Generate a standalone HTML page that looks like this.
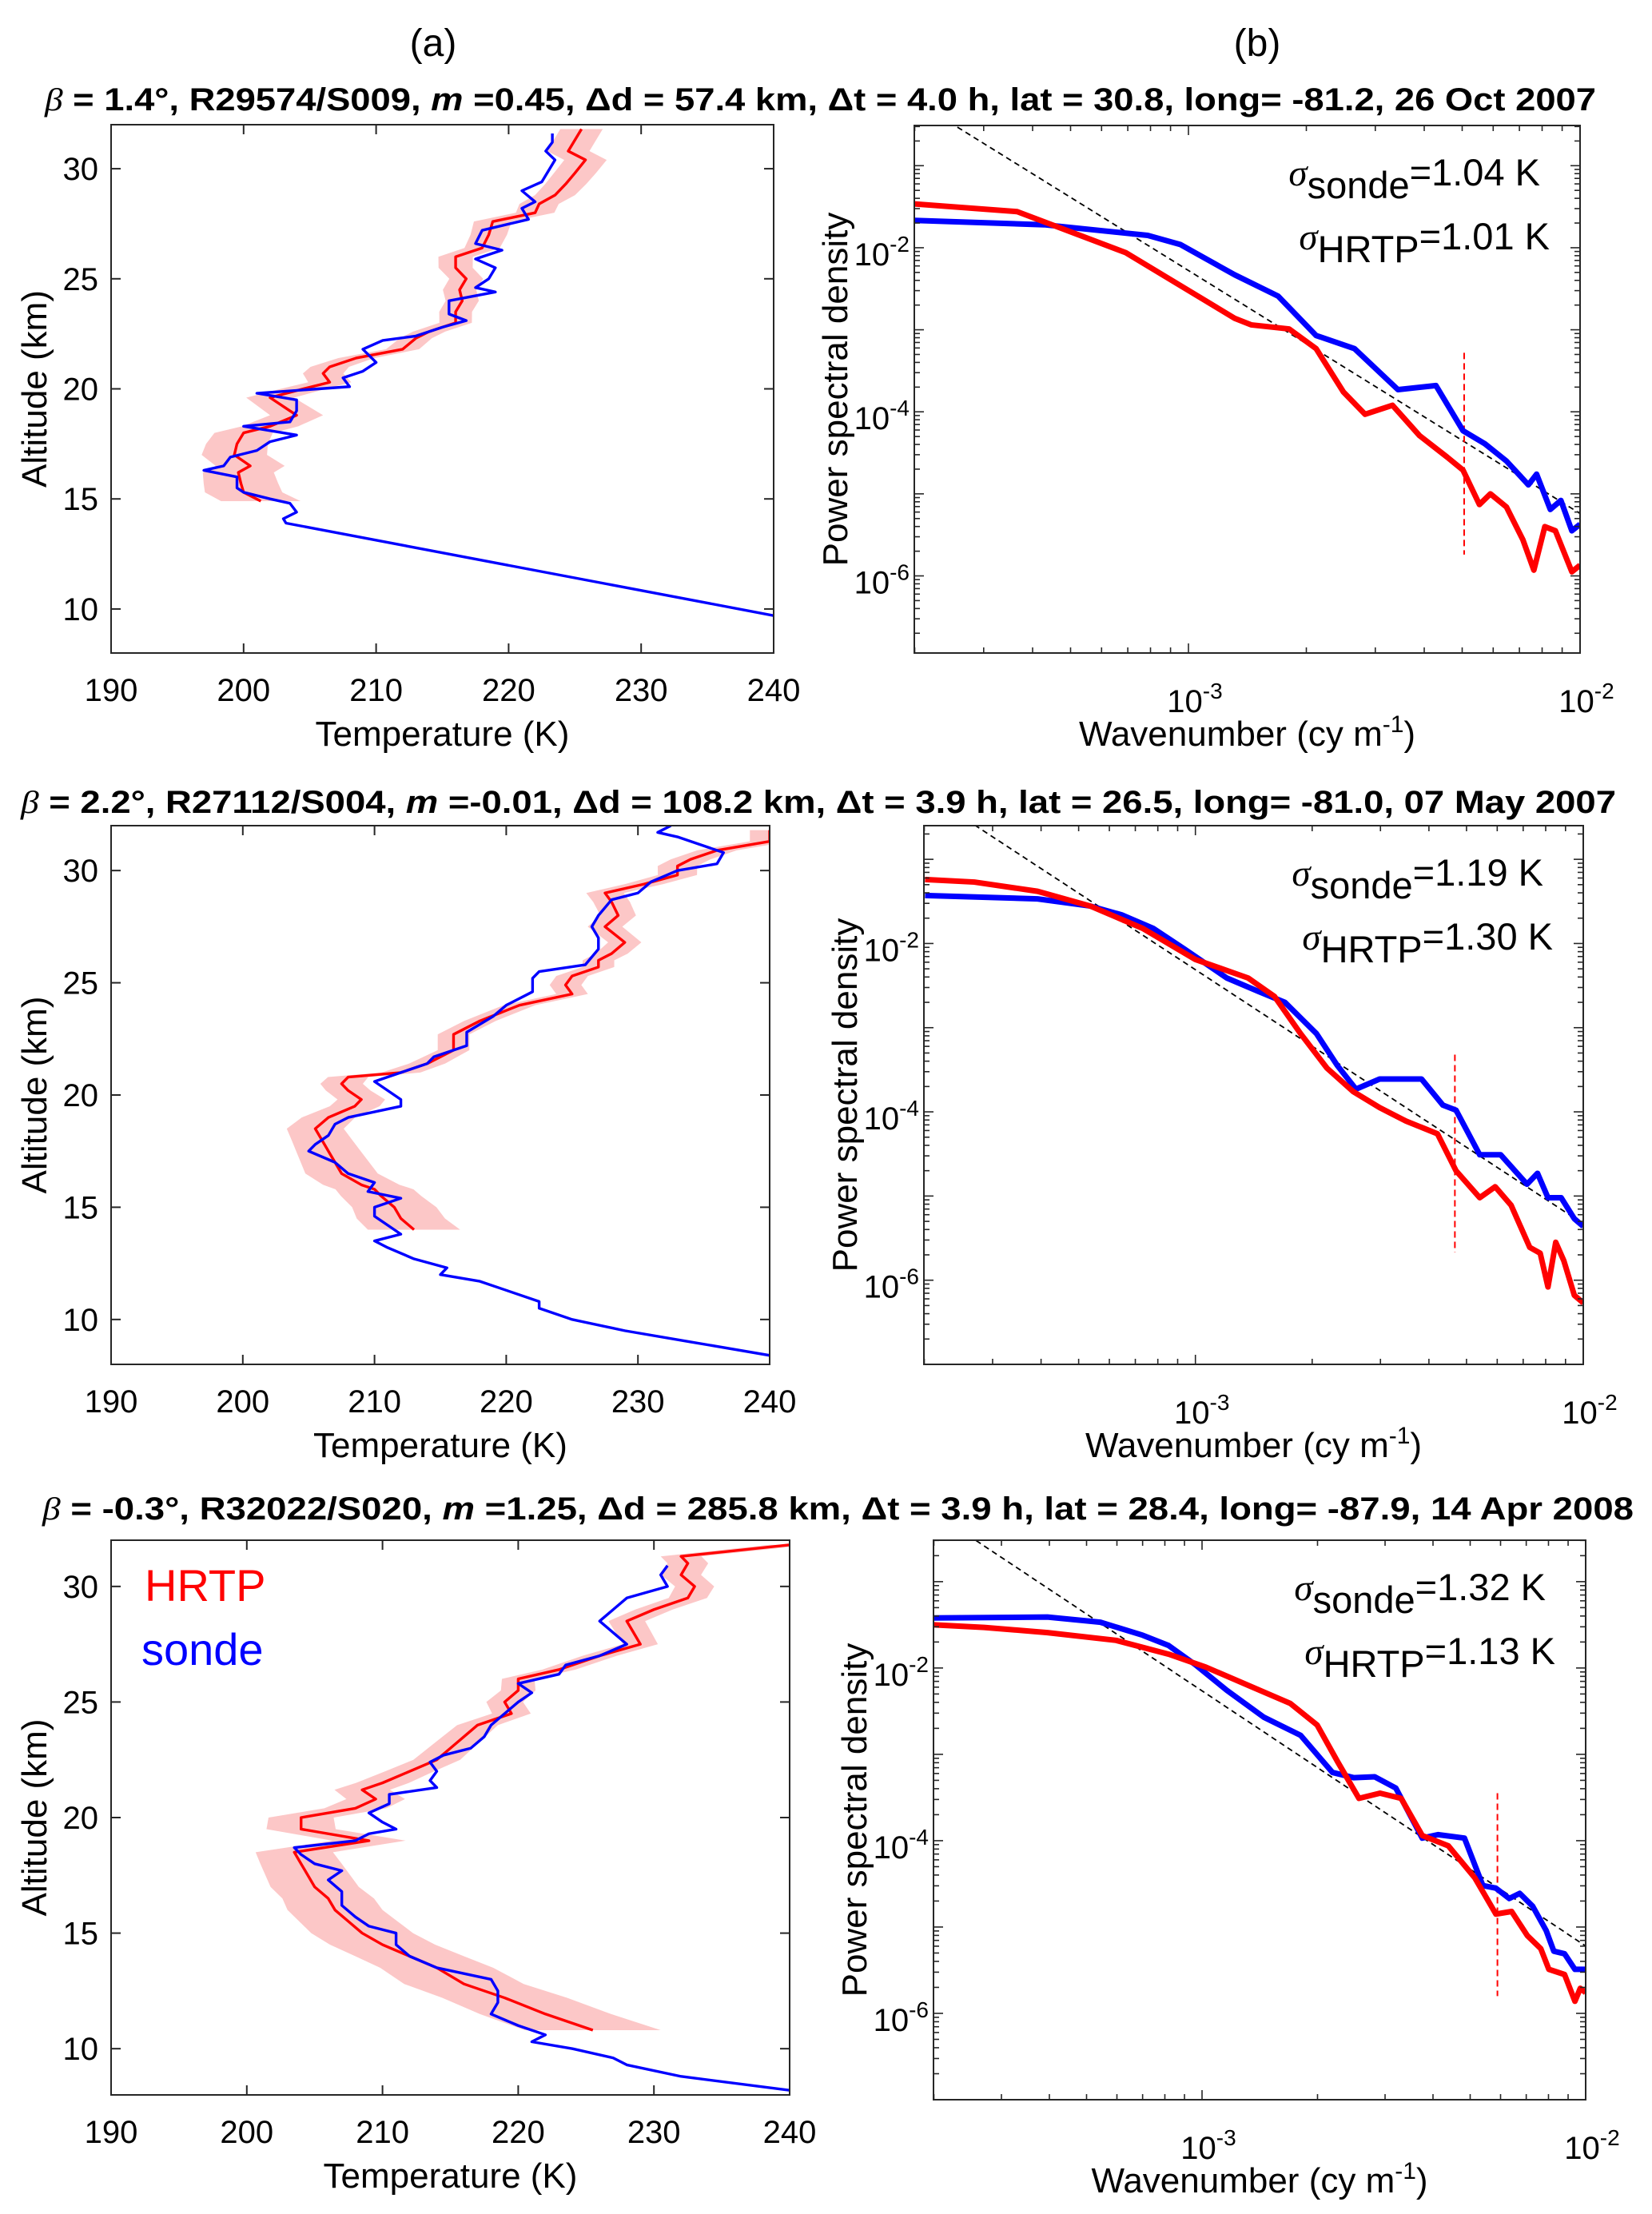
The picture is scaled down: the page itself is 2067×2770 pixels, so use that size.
<!DOCTYPE html>
<html><head><meta charset="utf-8"><style>
html,body{margin:0;padding:0;background:#fff}
svg{display:block}
text{font-family:"Liberation Sans",Arial,sans-serif;fill:#000}
</style></head><body>
<svg id="fig" xmlns="http://www.w3.org/2000/svg" width="2067" height="2770" viewBox="0 0 2067 2770">
<text x="542" y="70" font-size="48" text-anchor="middle">(a)</text>
<text x="1573" y="70" font-size="48" text-anchor="middle">(b)</text>
</svg>
<script>
// ===== Temperature profile data: [altitude km, temperature K] =====
const sonde1=[[9.7,240],[13.9,203.2],[14.1,203],[14.4,204],[14.8,203.5],[15,202],[15.3,200],[15.5,199.5],[16,199.5],[16.3,197],[16.5,198.5],[16.9,199],[17.2,201],[17.6,202],[17.9,204],[18.3,200],[18.5,203.5],[19,204],[19.5,204],[19.8,201],[20.1,208],[20.5,207.5],[20.8,209],[21.2,210],[21.8,209],[22.2,210.5],[22.4,213],[22.8,215],[23.1,216.8],[23.4,215.5],[24,215.5],[24.4,219],[24.6,217.5],[25,218.5],[25.5,219],[25.9,217.5],[26.3,219.5],[26.6,217.5],[27.2,218],[27.7,221.5],[28.2,221],[28.5,222],[29,221],[29.4,222.5],[29.9,223],[30.4,223.5],[30.8,222.8],[31.2,223.3],[31.6,223.3]];
const hrtp1=[[14.9,201.3],[15.3,200],[15.7,199.8],[16.2,199.6],[16.5,200.5],[17,199.3],[17.5,199.5],[18,200],[18.3,202],[18.8,204],[19.2,203],[19.6,202],[20,204.5],[20.3,206.5],[20.7,206],[21,206.5],[21.4,208.5],[21.8,212],[22.3,213],[22.6,214],[23,216],[23.5,216],[24,216.5],[24.5,216.3],[25,216.8],[25.5,216],[26,216],[26.4,218],[27,218.5],[27.6,218.8],[28,222],[28.4,222.3],[28.8,223.5],[29.3,224.3],[29.8,225],[30.4,225.8],[30.8,224.5],[31.3,225],[31.8,225.5]];
const band1=[[15,3],[18,2.2],[22,1.2],[26,1.3],[30,1.6]];
const sonde2=[[8.4,240],[9,234],[9.5,229],[10,225],[10.5,222.5],[10.8,222.5],[11.3,220],[11.7,218],[12,215],[12.3,215.5],[12.7,213],[13.2,211],[13.5,210],[13.8,212],[14.2,211],[14.6,210],[15,210],[15.4,212],[15.7,209.5],[16.1,210],[16.5,208],[17,207],[17.5,205],[17.8,205.5],[18.2,206.5],[18.7,207],[19,208],[19.5,212],[19.8,212],[20.2,211],[20.6,210],[21,212],[21.4,214],[21.7,214.5],[22.2,217],[22.8,217],[23.5,219],[24,220],[24.6,222],[25.2,222],[25.5,222.5],[25.8,226],[26.5,227],[27,227],[27.5,226.5],[28,227],[28.7,228],[29,230],[29.5,231],[30,233],[30.3,236],[30.8,236.5],[31.1,235],[31.5,233],[31.7,231.5],[32,232.5]];
const hrtp2=[[14,213],[14.5,212],[15,211.5],[15.5,210.5],[15.8,210],[16,209],[16.5,207.5],[17,207],[17.5,206.5],[18,206],[18.5,205.5],[19,206.5],[19.5,208.5],[19.8,209],[20.2,208],[20.5,207.5],[20.8,208],[21,212],[21.4,214],[22,216],[22.7,216],[23.3,218],[24,221],[24.5,225],[24.9,224.5],[25.3,225],[25.7,227],[26,227],[26.3,228],[26.8,229],[27.5,227.5],[28,228.5],[28.6,228],[29,227.5],[29.4,230.5],[29.8,233],[30.2,233],[30.5,234],[30.9,236],[31.3,240],[31.8,240]];
const band2=[[14,3.5],[18,2.3],[22,1.2],[26,1.2],[30,1.5]];
const sonde3=[[8.2,240],[8.8,232],[9.3,228],[9.6,227],[10,224],[10.3,221],[10.6,222],[11,220],[11.5,218],[12,218.5],[12.5,218.5],[13,218],[13.5,214],[14,212],[14.5,211],[14.8,211],[15,211],[15.3,209],[15.7,208],[16.2,207],[16.8,207],[17.3,206],[17.7,207],[18,205],[18.4,204],[18.7,203.5],[19,208],[19.3,209],[19.5,211],[19.8,210],[20.2,209],[20.6,210.5],[21,210.5],[21.3,214],[21.6,213.5],[22,214],[22.4,213.5],[22.7,214.5],[23,216.5],[23.5,217.5],[24,218],[24.5,219],[25,220],[25.4,221],[25.8,220],[26.2,223],[26.6,223.5],[27,226],[27.5,228],[28,227],[28.5,226],[29,227],[29.5,228],[30,231],[30.5,230.5],[30.9,231]];
const hrtp3=[[10.8,225.5],[11.5,222],[12.2,219],[12.8,216],[13.5,214],[14,212],[14.5,210],[15,208.5],[15.5,207.5],[16,206.5],[16.5,206],[17,205],[17.5,204.5],[18,204],[18.5,203.5],[19,209],[19.5,204],[20,204],[20.4,208],[20.8,209.5],[21.2,208.5],[21.5,210],[22,212],[22.5,214],[23,215],[23.5,216],[24,217],[24.5,219.5],[25,219],[25.5,220],[26,220],[26.4,223],[27,226],[27.5,229],[28,228.5],[28.5,228],[29,230],[29.5,232.5],[30,233],[30.5,232],[31,232.5],[31.3,232],[31.8,240]];
const band3=[[11,5],[14,4],[18,3],[22,1.8],[26,1.2],[31,1.5]];
const tempTicks=[190,200,210,220,230,240];
const altTicks=[10,15,20,25,30];

// ===== Spectra: [log10 wavenumber, log10 PSD] =====
const psdSonde1=[[-3.7,-1.667],[-3.368,-1.72],[-3.104,-1.85],[-3.021,-1.96],[-2.882,-2.33],[-2.771,-2.59],[-2.674,-3.07],[-2.576,-3.23],[-2.465,-3.73],[-2.368,-3.68],[-2.299,-4.23],[-2.243,-4.39],[-2.188,-4.6],[-2.132,-4.89],[-2.111,-4.76],[-2.076,-5.19],[-2.049,-5.08],[-2.021,-5.45],[-2,-5.37]];
const psdHrtp1=[[-3.7,-1.466],[-3.4375,-1.56],[-3.16,-2.06],[-2.882,-2.86],[-2.84,-2.94],[-2.743,-2.99],[-2.674,-3.23],[-2.604,-3.76],[-2.549,-4.03],[-2.479,-3.92],[-2.41,-4.29],[-2.34,-4.55],[-2.299,-4.71],[-2.257,-5.13],[-2.229,-5.0],[-2.188,-5.16],[-2.146,-5.56],[-2.118,-5.93],[-2.09,-5.4],[-2.063,-5.45],[-2.021,-5.95],[-2,-5.87]];
const psdSonde2=[[-3.697,-1.43],[-3.407,-1.47],[-3.271,-1.555],[-3.19,-1.66],[-3.109,-1.82],[-3.027,-2.07],[-2.919,-2.41],[-2.837,-2.57],[-2.769,-2.7],[-2.688,-3.07],[-2.634,-3.45],[-2.586,-3.73],[-2.525,-3.61],[-2.417,-3.61],[-2.362,-3.92],[-2.328,-3.98],[-2.267,-4.51],[-2.213,-4.51],[-2.145,-4.86],[-2.118,-4.73],[-2.091,-5.02],[-2.057,-5.02],[-2.023,-5.27],[-2,-5.36]];
const psdHrtp2=[[-3.697,-1.24],[-3.57,-1.27],[-3.407,-1.38],[-3.271,-1.555],[-3.136,-1.82],[-3,-2.19],[-2.864,-2.41],[-2.796,-2.63],[-2.729,-3.07],[-2.661,-3.48],[-2.593,-3.76],[-2.525,-3.95],[-2.457,-4.11],[-2.376,-4.26],[-2.328,-4.7],[-2.267,-5.02],[-2.227,-4.89],[-2.186,-5.11],[-2.138,-5.61],[-2.111,-5.68],[-2.091,-6.08],[-2.071,-5.55],[-2.05,-5.77],[-2.023,-6.18],[-2,-6.27]];
const psdSonde3=[[-3.699,-1.42],[-3.403,-1.41],[-3.265,-1.47],[-3.155,-1.62],[-3.087,-1.74],[-3.018,-1.96],[-2.935,-2.26],[-2.839,-2.57],[-2.743,-2.78],[-2.66,-3.21],[-2.605,-3.27],[-2.55,-3.26],[-2.495,-3.39],[-2.426,-3.97],[-2.385,-3.93],[-2.316,-3.97],[-2.268,-4.52],[-2.234,-4.55],[-2.199,-4.67],[-2.172,-4.61],[-2.138,-4.76],[-2.103,-5.04],[-2.083,-5.28],[-2.055,-5.31],[-2.028,-5.49],[-2,-5.49]];
const psdHrtp3=[[-3.699,-1.5],[-3.568,-1.53],[-3.403,-1.59],[-3.224,-1.68],[-3.087,-1.84],[-2.99,-1.99],[-2.88,-2.2],[-2.77,-2.41],[-2.7,-2.66],[-2.646,-3.09],[-2.591,-3.51],[-2.536,-3.45],[-2.481,-3.51],[-2.426,-3.94],[-2.358,-4.06],[-2.289,-4.43],[-2.234,-4.85],[-2.193,-4.82],[-2.152,-5.1],[-2.117,-5.25],[-2.096,-5.49],[-2.055,-5.55],[-2.028,-5.86],[-2.014,-5.71],[-2,-5.76]];
const refLine1=[[-3.59,-0.53],[-2,-5.24]], cut1=[-2.296,-3.28,-5.74];
const refLine2=[[-3.59,-0.53],[-2,-5.33]], cut2=[-2.331,-3.32,-5.67];
const refLine3=[[-3.589,-0.524],[-2,-5.22]], cut3=[-2.23,-3.45,-5.8];
const sigmas=[["1.04","1.01"],["1.19","1.30"],["1.32","1.13"]];
const titles=[
 ["1.4","R29574/S009","0.45","57.4","4.0","30.8","-81.2","26 Oct 2007"],
 ["2.2","R27112/S004","-0.01","108.2","3.9","26.5","-81.0","07 May 2007"],
 ["-0.3","R32022/S020","1.25","285.8","3.9","28.4","-87.9","14 Apr 2008"]];

const NS="http://www.w3.org/2000/svg";
const svg=document.getElementById('fig');
function mk(tag,attrs,parent){const e=document.createElementNS(NS,tag);for(const k in attrs)e.setAttribute(k,attrs[k]);(parent||svg).appendChild(e);return e;}

function interpBand(b,alt){if(alt<=b[0][0])return b[0][1];for(let i=1;i<b.length;i++){if(alt<=b[i][0]){const t=(alt-b[i-1][0])/(b[i][0]-b[i-1][0]);return b[i-1][1]+t*(b[i][1]-b[i-1][1]);}}return b[b.length-1][1];}

function tempPanel(p,sonde,hrtp,band,idx,legend){
  const g=mk('g',{});
  
  
  const X=t=>p.x0+(t-190)/50*(p.x1-p.x0);
  const Y=a=>p.y1-(a-8)/24*(p.y1-p.y0);
  const cp=mk('clipPath',{id:'cpT'+idx},g);mk('rect',{x:p.x0,y:p.y0,width:p.x1-p.x0,height:p.y1-p.y0},cp);
  const dg=mk('g',{'clip-path':'url(#cpT'+idx+')'},g);
  let up=hrtp.map(d=>X(d[1]+interpBand(band,d[0]))+','+Y(d[0]));
  let dn=hrtp.slice().reverse().map(d=>X(d[1]-interpBand(band,d[0]))+','+Y(d[0]));
  const bp=mk('polygon',{points:up.concat(dn).join(' '),fill:'#fcc7c7',stroke:'none'},dg);
  
  
  const hl=mk('polyline',{points:hrtp.map(d=>X(d[1])+','+Y(d[0])).join(' '),fill:'none',stroke:'#ff0000','stroke-width':3.4,'stroke-linejoin':'round'},dg);
  
  
  const sl=mk('polyline',{points:sonde.map(d=>X(d[1])+','+Y(d[0])).join(' '),fill:'none',stroke:'#0000ff','stroke-width':3.4,'stroke-linejoin':'round'},dg);
  
  
  const fr=mk('rect',{x:p.x0,y:p.y0,width:p.x1-p.x0,height:p.y1-p.y0,fill:'none',stroke:'#262626','stroke-width':2},g);
  
  
  tempTicks.forEach(t=>{const x=X(t);
    mk('line',{x1:x,x2:x,y1:p.y1,y2:p.y1-12,stroke:'#262626','stroke-width':2},g);
    mk('line',{x1:x,x2:x,y1:p.y0,y2:p.y0+12,stroke:'#262626','stroke-width':2},g);
    const tl=mk('text',{x:x,y:p.y1+60,'font-size':40,'text-anchor':'middle'},g);tl.textContent=t;
    
    });
  altTicks.forEach(a=>{const y=Y(a);
    mk('line',{x1:p.x0,x2:p.x0+12,y1:y,y2:y,stroke:'#262626','stroke-width':2},g);
    mk('line',{x1:p.x1,x2:p.x1-12,y1:y,y2:y,stroke:'#262626','stroke-width':2},g);
    const tl=mk('text',{x:p.x0-16,y:y+14,'font-size':40,'text-anchor':'end'},g);tl.textContent=a;
    
    });
  const xl=mk('text',{x:(p.x0+p.x1)/2,y:p.y1+116,'font-size':44,'text-anchor':'middle'},g);xl.textContent='Temperature (K)';
  
  
  const yc=(p.y0+p.y1)/2;
  const yl=mk('text',{x:0,y:0,'font-size':44,'text-anchor':'middle',transform:'translate(58,'+yc+') rotate(-90)'},g);yl.textContent='Altitude (km)';
  
  
  if(legend){
    const l1=mk('text',{x:181,y:p.y0+76,'font-size':56},g);l1.textContent='HRTP';l1.style.fill='#ff0000';
    
    
    const l2=mk('text',{x:177,y:p.y0+156,'font-size':56},g);l2.textContent='sonde';l2.style.fill='#0000ff';
    
    
  }
}

function psdPanel(p,sonde,hrtp,ref,cut,sig,idx){
  const g=mk('g',{});
  
  
  const kx0=-3.7,kx1=-2;
  const X=lk=>p.x0+(lk-kx0)/(kx1-kx0)*(p.x1-p.x0);
  const Y=lp=>p.y1-(lp-p.ly0)/(p.ly1-p.ly0)*(p.y1-p.y0);
  const cp=mk('clipPath',{id:'cpP'+idx},g);mk('rect',{x:p.x0,y:p.y0,width:p.x1-p.x0,height:p.y1-p.y0},cp);
  const dg=mk('g',{'clip-path':'url(#cpP'+idx+')'},g);
  const rl=mk('line',{x1:X(ref[0][0]),y1:Y(ref[0][1]),x2:X(ref[1][0]),y2:Y(ref[1][1]),stroke:'#000','stroke-width':1.8,'stroke-dasharray':'7,5'},dg);
  
  
  const cl=mk('line',{x1:X(cut[0]),y1:Y(cut[1]),x2:X(cut[0]),y2:Y(cut[2]),stroke:'#ff0000','stroke-width':2,'stroke-dasharray':'8,5'},dg);
  
  
  const sl=mk('polyline',{points:sonde.map(d=>X(d[0])+','+Y(d[1])).join(' '),fill:'none',stroke:'#0000ff','stroke-width':7,'stroke-linejoin':'round'},dg);
  
  
  const hl=mk('polyline',{points:hrtp.map(d=>X(d[0])+','+Y(d[1])).join(' '),fill:'none',stroke:'#ff0000','stroke-width':7,'stroke-linejoin':'round'},dg);
  
  
  const fr=mk('rect',{x:p.x0,y:p.y0,width:p.x1-p.x0,height:p.y1-p.y0,fill:'none',stroke:'#262626','stroke-width':2},g);
  
  
  for(let dec=-4;dec<=-2;dec++){for(let m=1;m<=9;m++){const lk=dec+Math.log10(m);if(lk<kx0-1e-6||lk>kx1+1e-6)continue;const x=X(lk);const L=m==1?12:7;
    mk('line',{x1:x,x2:x,y1:p.y1,y2:p.y1-L,stroke:'#262626','stroke-width':1.6},g);
    mk('line',{x1:x,x2:x,y1:p.y0,y2:p.y0+L,stroke:'#262626','stroke-width':1.6},g);}}
  [-3,-2].forEach(d=>{const t=mk('text',{x:X(d)+8,y:p.y1+74,'font-size':40,'text-anchor':'middle'},g);
    
    
    const a=document.createElementNS(NS,'tspan');a.textContent='10';t.appendChild(a);
    const b=document.createElementNS(NS,'tspan');b.setAttribute('dy','-17');b.setAttribute('font-size','28');b.textContent=String(d);t.appendChild(b);});
  for(let dec=-8;dec<=0;dec++){for(let m=1;m<=9;m++){const lp=dec+Math.log10(m);if(lp<p.ly0-1e-6||lp>p.ly1+1e-6)continue;const y=Y(lp);const L=m==1?12:7;
    mk('line',{x1:p.x0,x2:p.x0+L,y1:y,y2:y,stroke:'#262626','stroke-width':1.6},g);
    mk('line',{x1:p.x1,x2:p.x1-L,y1:y,y2:y,stroke:'#262626','stroke-width':1.6},g);}}
  [-2,-4,-6].forEach(d=>{const t=mk('text',{x:p.x0-6,y:Y(d)+22,'font-size':40,'text-anchor':'end'},g);
    
    
    const a=document.createElementNS(NS,'tspan');a.textContent='10';t.appendChild(a);
    const b=document.createElementNS(NS,'tspan');b.setAttribute('dy','-17');b.setAttribute('font-size','28');b.textContent=String(d);t.appendChild(b);});
  const xl=mk('text',{x:(p.x0+p.x1)/2,y:p.y1+116,'font-size':44,'text-anchor':'middle'},g);
  
  
  xl.innerHTML='Wavenumber (cy m<tspan dy="-17" font-size="30">-1</tspan><tspan dy="17">)</tspan>';
  const yc=(p.y0+p.y1)/2;
  const yl=mk('text',{x:0,y:0,'font-size':44,'text-anchor':'middle',transform:'translate('+(p.x0-84)+','+yc+') rotate(-90)'},g);yl.textContent='Power spectral density';
  
  
  const s1=mk('text',{x:p.x1-50,y:p.y0+75,'font-size':47,'text-anchor':'end'},g);
  
  
  s1.innerHTML='<tspan font-family="Liberation Serif" font-style="italic">σ</tspan><tspan dy="16">sonde</tspan><tspan dy="-16">='+sig[0]+' K</tspan>';
  const s2=mk('text',{x:p.x1-38,y:p.y0+155,'font-size':47,'text-anchor':'end'},g);
  
  
  s2.innerHTML='<tspan font-family="Liberation Serif" font-style="italic">σ</tspan><tspan dy="16">HRTP</tspan><tspan dy="-16">='+sig[1]+' K</tspan>';
}

function title(y,x0,x1,v,idx){
  const t=mk('text',{x:x0,y:y,'font-size':40,'font-weight':'bold',textLength:x1-x0,lengthAdjust:'spacingAndGlyphs'});
  
  
  t.innerHTML='<tspan font-family="Liberation Serif" font-style="italic" font-weight="normal">β</tspan> = '+v[0]+'°, '+v[1]+',  <tspan font-style="italic">m</tspan> ='+v[2]+', Δd = '+v[3]+' km, Δt = '+v[4]+' h, lat = '+v[5]+', long= '+v[6]+', '+v[7];
}

title(138,56,1997,titles[0],1);
title(1017,26,2022,titles[1],2);
title(1901,53,2044,titles[2],3);
tempPanel({x0:139,x1:968,y0:156,y1:817},sonde1,hrtp1,band1,1,false);
tempPanel({x0:139,x1:963,y0:1033,y1:1707},sonde2,hrtp2,band2,2,false);
tempPanel({x0:139,x1:988,y0:1927,y1:2621},sonde3,hrtp3,band3,3,true);
psdPanel({x0:1144,x1:1977,y0:157,y1:817,ly0:-6.94,ly1:-0.51},psdSonde1,psdHrtp1,refLine1,cut1,sigmas[0],1);
psdPanel({x0:1156,x1:1981,y0:1033,y1:1707,ly0:-7,ly1:-0.6},psdSonde2,psdHrtp2,refLine2,cut2,sigmas[1],2);
psdPanel({x0:1168,x1:1984,y0:1927,y1:2627,ly0:-7,ly1:-0.52},psdSonde3,psdHrtp3,refLine3,cut3,sigmas[2],3);
</script>
</body></html>
